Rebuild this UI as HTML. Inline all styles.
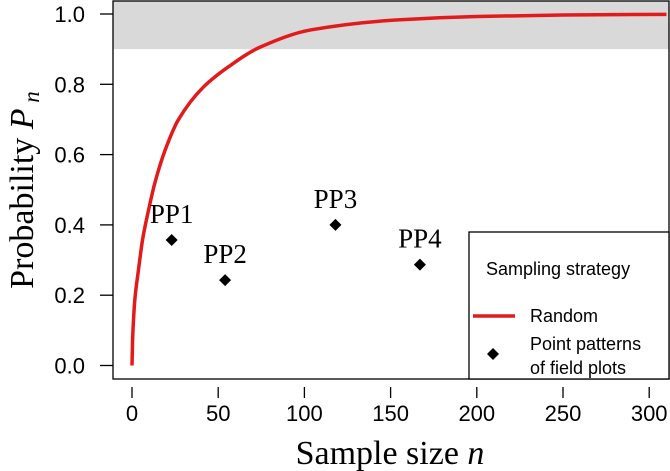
<!DOCTYPE html>
<html><head><meta charset="utf-8"><style>
html,body{margin:0;padding:0;background:#fff;width:670px;height:471px;overflow:hidden}
</style></head><body>
<svg id="chart" width="670" height="471" viewBox="0 0 670 471" xmlns="http://www.w3.org/2000/svg">
<g id="plot"></g>
</svg>
<script>
const curveN = [0,0.4,1.7,3.7,6.2,9.5,13.3,19,27,41,56,74,104,153,200,250,310];
const curveP = [0,0.08,0.19,0.27,0.36,0.44,0.52,0.61,0.70,0.79,0.85,0.905,0.955,0.983,0.993,0.997,0.999];
const ptLabels = ["PP1","PP2","PP3","PP4"];
const ptN = [23,54,118,167];
const ptP = [0.357,0.243,0.40,0.287];
const xTicks = [0,50,100,150,200,250,300];
const yTicks = [0,0.2,0.4,0.6,0.8,1.0];
const bandMin = 0.9;

const NS="http://www.w3.org/2000/svg";
const g=document.getElementById('plot');
const X=n=>132+n*1.724;
const Y=p=>365.5-p*351.5;
const L=113,R=669,T=1,B=379;
function mk(t,a,txt){const e=document.createElementNS(NS,t);for(const k in a)e.setAttribute(k,a[k]);if(txt!=null)e.textContent=txt;g.appendChild(e);return e;}

let e=mk('rect',{x:L,y:T,width:R-L,height:Y(bandMin)-T,fill:'#d9d9d9'});



yTicks.forEach(v=>{
  let t=mk('line',{x1:L-13,x2:L,y1:Y(v),y2:Y(v),stroke:'#000','stroke-width':1.3});
  
  
  let l=mk('text',{x:L-28,y:Y(v)+8,'text-anchor':'end','font-family':'Liberation Sans, sans-serif','font-size':22},v.toFixed(1));
  
  
});
xTicks.forEach(v=>{
  let t=mk('line',{x1:X(v),x2:X(v),y1:B+8,y2:B+19,stroke:'#000','stroke-width':1.3});
  
  
  let l=mk('text',{x:X(v),y:421,'text-anchor':'middle','font-family':'Liberation Sans, sans-serif','font-size':22},String(v));
  
  
});

// monotone cubic interpolation (Fritsch-Carlson) in pixel space
const pts=curveN.map((n,i)=>[X(n),Y(curveP[i])]);
const nP=pts.length, dx=[], sl=[], m=[];
for(let i=0;i<nP-1;i++){dx[i]=pts[i+1][0]-pts[i][0];sl[i]=(pts[i+1][1]-pts[i][1])/dx[i];}
m[0]=sl[0];m[nP-1]=sl[nP-2];
for(let i=1;i<nP-1;i++){m[i]=(sl[i-1]*sl[i]<=0)?0:2/(1/sl[i-1]+1/sl[i]);}
let d='M'+pts[0][0]+','+pts[0][1];
for(let i=0;i<nP-1;i++){
  const h=dx[i]/3;
  d+=' C'+(pts[i][0]+h)+','+(pts[i][1]+m[i]*h)+' '+(pts[i+1][0]-h)+','+(pts[i+1][1]-m[i+1]*h)+' '+pts[i+1][0]+','+pts[i+1][1];
}
const clip=document.createElementNS(NS,'clipPath');clip.setAttribute('id','cp');
const cr=document.createElementNS(NS,'rect');cr.setAttribute('x',L);cr.setAttribute('y',T);cr.setAttribute('width',R-L);cr.setAttribute('height',B-T);clip.appendChild(cr);g.appendChild(clip);
e=mk('path',{d:d,fill:'none',stroke:'#e31a1c','stroke-width':3.5,'clip-path':'url(#cp)'});



ptN.forEach((n,i)=>{
  const x=X(n),y=Y(ptP[i]);
  let mm=mk('path',{d:`M${x},${y-6}L${x+6},${y}L${x},${y+6}L${x-6},${y}Z`,fill:'#000'});
  
  
  let t=mk('text',{x:x,y:y-17,'text-anchor':'middle','font-family':'Liberation Serif, serif','font-size':27},ptLabels[i]);
  
  
});

e=mk('rect',{x:L,y:T,width:R-L,height:B-T,fill:'none',stroke:'#000','stroke-width':1.3});



// legend
e=mk('rect',{x:469,y:232,width:R-469,height:B-232,fill:'#fff',stroke:'#000','stroke-width':1.3});


e=mk('text',{x:486,y:275,'font-family':'Liberation Sans, sans-serif','font-size':18},'Sampling strategy');


e=mk('line',{x1:473,x2:515,y1:316,y2:316,stroke:'#e31a1c','stroke-width':3.5});


e=mk('text',{x:530,y:322,'font-family':'Liberation Sans, sans-serif','font-size':18},'Random');


e=mk('path',{d:'M493,348L499,354L493,360L487,354Z',fill:'#000'});


e=mk('text',{x:530,y:350,'font-family':'Liberation Sans, sans-serif','font-size':18},'Point patterns');


e=mk('text',{x:530,y:374,'font-family':'Liberation Sans, sans-serif','font-size':18},'of field plots');



// axis titles
e=mk('text',{x:390,y:464,'text-anchor':'middle','font-family':'Liberation Serif, serif','font-size':34});
e.innerHTML='Sample size <tspan font-style="italic">n</tspan>';


e=mk('text',{x:0,y:0,'text-anchor':'middle','font-family':'Liberation Serif, serif','font-size':34,transform:'translate(33,190) rotate(-90)'});
e.innerHTML='Probability <tspan font-style="italic">P</tspan><tspan font-style="italic" font-size="23" dy="6"> n</tspan>';


</script>
</body></html>
